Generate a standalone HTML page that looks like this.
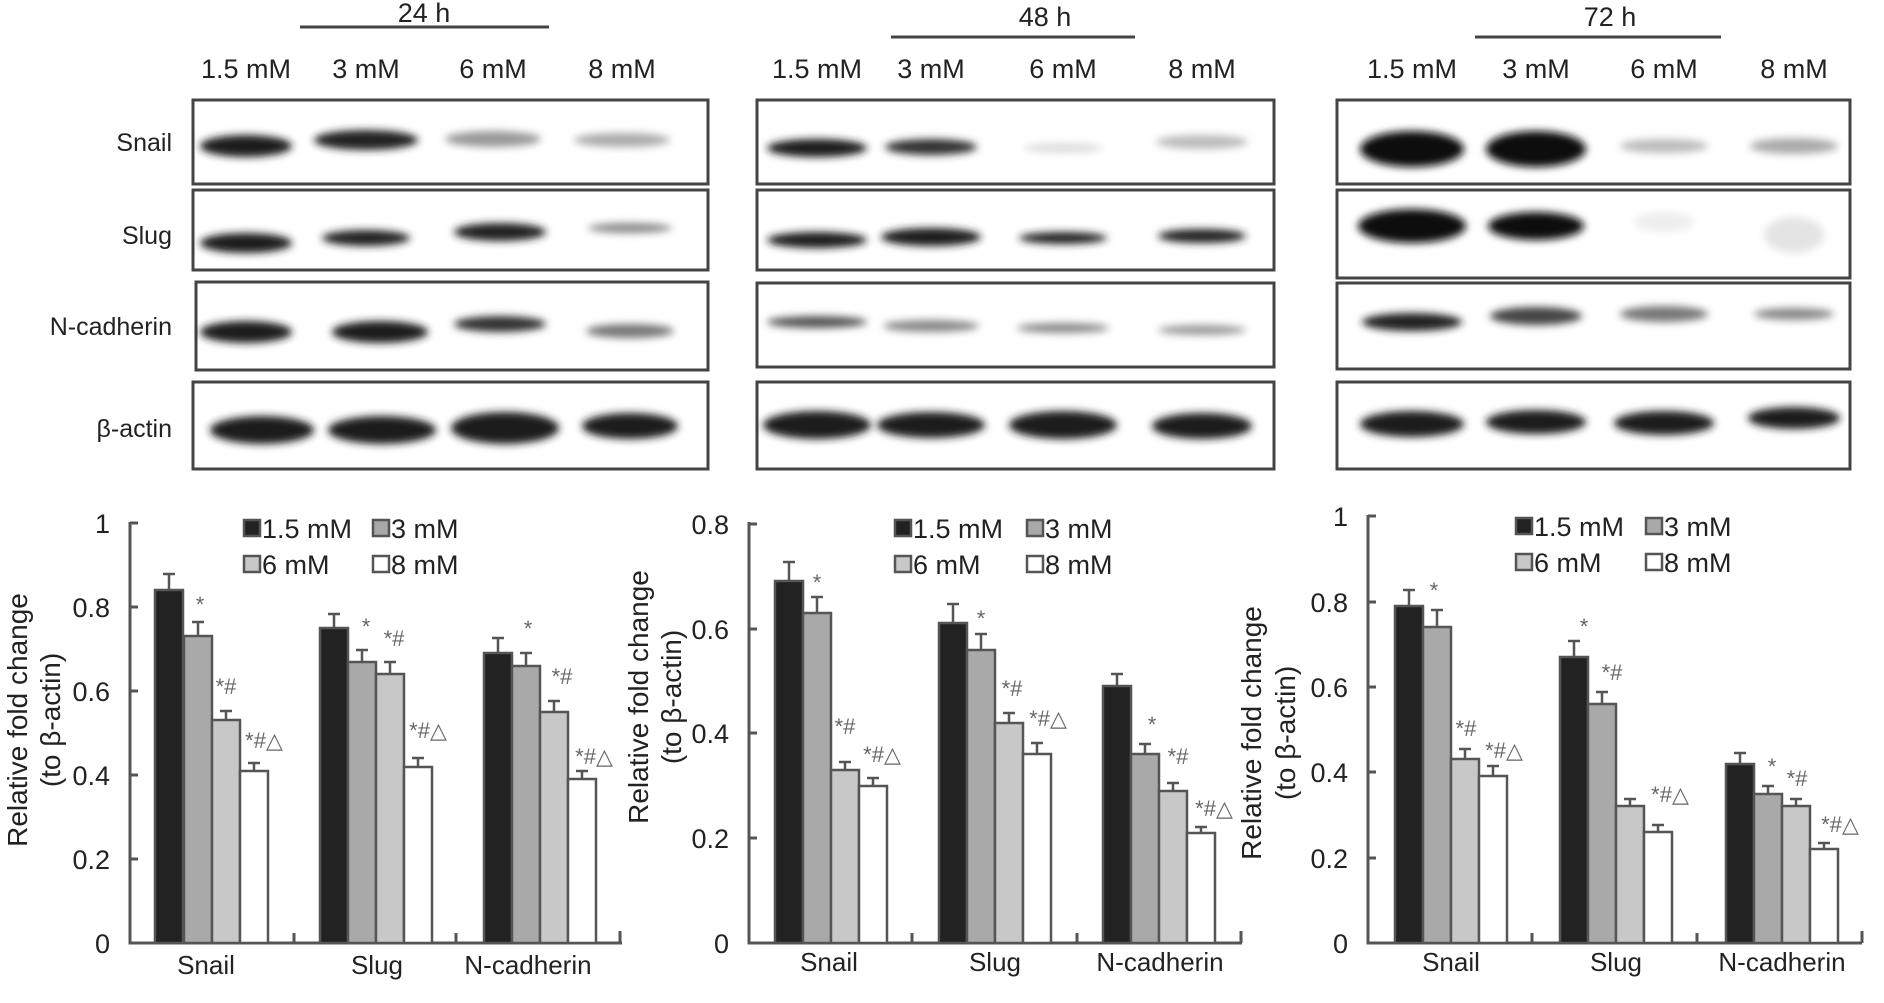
<!DOCTYPE html>
<html><head><meta charset="utf-8"><style>
html,body{margin:0;padding:0;background:#fff}
svg{display:block}
text{font-family:"Liberation Sans",sans-serif;fill:#222}
</style></head><body>
<svg width="1884" height="1003" viewBox="0 0 1884 1003" xmlns="http://www.w3.org/2000/svg">
<defs>
<filter id="b" x="-20%" y="-60%" width="140%" height="220%"><feGaussianBlur stdDeviation="4"/></filter>
</defs>
<!-- Blot headers -->
<g font-size="27" text-anchor="middle">
<text x="424" y="22">24 h</text>
<line x1="300" y1="27" x2="549" y2="27" stroke="#444" stroke-width="3"/>
<text x="246" y="78">1.5 mM</text><text x="366" y="78">3 mM</text><text x="493" y="78">6 mM</text><text x="622" y="78">8 mM</text>
<text x="1045" y="26">48 h</text>
<line x1="891" y1="37" x2="1135" y2="37" stroke="#444" stroke-width="3"/>
<text x="817" y="78">1.5 mM</text><text x="931" y="78">3 mM</text><text x="1063" y="78">6 mM</text><text x="1202" y="78">8 mM</text>
<text x="1610" y="26">72 h</text>
<line x1="1475" y1="37" x2="1721" y2="37" stroke="#444" stroke-width="3"/>
<text x="1412" y="78">1.5 mM</text><text x="1536" y="78">3 mM</text><text x="1664" y="78">6 mM</text><text x="1794" y="78">8 mM</text>
</g>
<g font-size="25" text-anchor="end">
<text x="172" y="151">Snail</text><text x="172" y="244">Slug</text><text x="172" y="335">N-cadherin</text><text x="172" y="437">β-actin</text>
</g>
<!-- blot boxes -->
<g fill="#fff" stroke="#444" stroke-width="3">
<rect x="193" y="100" width="515" height="84"/><rect x="193" y="190" width="515" height="80"/><rect x="196" y="282" width="512" height="88"/><rect x="193" y="382" width="515" height="87"/>
<rect x="757" y="100" width="517" height="84"/><rect x="757" y="190" width="517" height="80"/><rect x="757" y="283" width="517" height="84"/><rect x="757" y="382" width="517" height="87"/>
<rect x="1337" y="100" width="513" height="84"/><rect x="1337" y="190" width="513" height="88"/><rect x="1337" y="283" width="513" height="86"/><rect x="1337" y="382" width="513" height="87"/>
</g>
<!-- bands -->
<g filter="url(#b)">
<ellipse cx="246" cy="146" rx="46" ry="11" fill="#1a1a1a"/><ellipse cx="366" cy="140" rx="52" ry="10" fill="#222"/><ellipse cx="493" cy="139" rx="48" ry="8" fill="#999"/><ellipse cx="622" cy="140" rx="48" ry="7" fill="#aaa"/>
<ellipse cx="246" cy="243" rx="46" ry="10" fill="#1a1a1a"/><ellipse cx="366" cy="238" rx="44" ry="8" fill="#222"/><ellipse cx="500" cy="232" rx="46" ry="9" fill="#222"/><ellipse cx="630" cy="228" rx="42" ry="5" fill="#888"/>
<ellipse cx="246" cy="332" rx="46" ry="11" fill="#1a1a1a"/><ellipse cx="380" cy="332" rx="48" ry="11" fill="#1a1a1a"/><ellipse cx="500" cy="324" rx="46" ry="8" fill="#333"/><ellipse cx="630" cy="331" rx="44" ry="7" fill="#777"/>
<ellipse cx="262" cy="430" rx="52" ry="14" fill="#1a1a1a"/><ellipse cx="382" cy="430" rx="54" ry="14" fill="#1a1a1a"/><ellipse cx="505" cy="428" rx="54" ry="16" fill="#1a1a1a"/><ellipse cx="630" cy="426" rx="48" ry="13" fill="#1a1a1a"/>
<ellipse cx="817" cy="148" rx="50" ry="9" fill="#1a1a1a"/><ellipse cx="931" cy="147" rx="46" ry="8" fill="#333"/><ellipse cx="1063" cy="148" rx="40" ry="5" fill="#ddd"/><ellipse cx="1202" cy="142" rx="46" ry="7" fill="#bbb"/>
<ellipse cx="817" cy="240" rx="50" ry="8" fill="#1a1a1a"/><ellipse cx="931" cy="237" rx="50" ry="9" fill="#1a1a1a"/><ellipse cx="1063" cy="238" rx="44" ry="6" fill="#222"/><ellipse cx="1202" cy="236" rx="44" ry="7" fill="#222"/>
<ellipse cx="817" cy="322" rx="50" ry="6" fill="#555"/><ellipse cx="931" cy="326" rx="48" ry="6" fill="#888"/><ellipse cx="1063" cy="328" rx="46" ry="5" fill="#888"/><ellipse cx="1202" cy="330" rx="44" ry="5" fill="#999"/>
<ellipse cx="817" cy="425" rx="54" ry="14" fill="#1a1a1a"/><ellipse cx="931" cy="425" rx="54" ry="13" fill="#1a1a1a"/><ellipse cx="1063" cy="425" rx="54" ry="14" fill="#1a1a1a"/><ellipse cx="1202" cy="426" rx="50" ry="13" fill="#1a1a1a"/>
<ellipse cx="1412" cy="149" rx="52" ry="18" fill="#111"/><ellipse cx="1536" cy="149" rx="50" ry="18" fill="#111"/><ellipse cx="1664" cy="146" rx="44" ry="7" fill="#bbb"/><ellipse cx="1794" cy="146" rx="44" ry="8" fill="#aaa"/>
<ellipse cx="1412" cy="226" rx="54" ry="17" fill="#111"/><ellipse cx="1536" cy="226" rx="48" ry="14" fill="#111"/><ellipse cx="1664" cy="222" rx="30" ry="10" fill="#eee"/><ellipse cx="1794" cy="235" rx="30" ry="18" fill="#e4e4e4"/>
<ellipse cx="1412" cy="322" rx="50" ry="9" fill="#222"/><ellipse cx="1536" cy="316" rx="46" ry="9" fill="#444"/><ellipse cx="1664" cy="314" rx="44" ry="8" fill="#777"/><ellipse cx="1794" cy="314" rx="40" ry="6" fill="#888"/>
<ellipse cx="1412" cy="424" rx="52" ry="13" fill="#1a1a1a"/><ellipse cx="1536" cy="422" rx="50" ry="12" fill="#1a1a1a"/><ellipse cx="1664" cy="423" rx="50" ry="12" fill="#1a1a1a"/><ellipse cx="1794" cy="418" rx="46" ry="11" fill="#1a1a1a"/>
</g>

<!-- ===== Chart 1 ===== -->
<g font-size="27" text-anchor="end">
<text x="110" y="533">1</text><text x="110" y="617">0.8</text><text x="110" y="701">0.6</text><text x="110" y="785">0.4</text><text x="110" y="869">0.2</text><text x="110" y="953">0</text>
</g>
<g stroke="#555" stroke-width="3" fill="none">
<path d="M130 522 V943 H622"/><path d="M130 523h8M130 607h8M130 691h8M130 775h8M130 859h8"/>
<path d="M294 943v-10M456 943v-10M620 943v-12"/>
</g>
<g stroke="#555" stroke-width="2.5">
<rect x="155" y="590" width="28" height="353" fill="#222"/><rect x="184" y="636" width="28" height="307" fill="#a9a9a9"/><rect x="212" y="720" width="28" height="223" fill="#c8c8c8"/><rect x="240" y="771" width="28" height="172" fill="#fff"/>
<rect x="320" y="628" width="28" height="315" fill="#222"/><rect x="348" y="662" width="28" height="281" fill="#a9a9a9"/><rect x="376" y="674" width="28" height="269" fill="#c8c8c8"/><rect x="404" y="767" width="28" height="176" fill="#fff"/>
<rect x="484" y="653" width="28" height="290" fill="#222"/><rect x="512" y="666" width="28" height="277" fill="#a9a9a9"/><rect x="540" y="712" width="28" height="231" fill="#c8c8c8"/><rect x="568" y="779" width="28" height="164" fill="#fff"/>
<path fill="none" d="M169 590V574M163 574h12M198 636V622M192 622h12M226 720V711M220 711h12M254 771V763M248 763h12M334 628V614M328 614h12M362 662V650M356 650h12M390 674V662M384 662h12M418 767V758M412 758h12M498 653V638M492 638h12M526 666V653M520 653h12M554 712V701M548 701h12M582 779V771M576 771h12"/>
</g>
<g font-size="22" text-anchor="middle">
<text x="200" y="612" style="fill:#666">*</text><text x="226" y="694" style="fill:#666">*#</text><text x="264" y="748" style="fill:#666">*#△</text>
<text x="366" y="634" style="fill:#666">*</text><text x="394" y="646" style="fill:#666">*#</text><text x="428" y="738" style="fill:#666">*#△</text>
<text x="528" y="636" style="fill:#666">*</text><text x="562" y="684" style="fill:#666">*#</text><text x="594" y="764" style="fill:#666">*#△</text>
</g>
<g font-size="26" text-anchor="middle">
<text x="206" y="974">Snail</text><text x="377" y="974">Slug</text><text x="528" y="974">N-cadherin</text>
</g>
<g font-size="28" text-anchor="middle">
<text transform="translate(27,720) rotate(-90)">Relative fold change</text>
<text transform="translate(60,720) rotate(-90)">(to β-actin)</text>
</g>
<g stroke="#555" stroke-width="2.5">
<rect x="244" y="520" width="16" height="16" fill="#222"/><rect x="373" y="520" width="16" height="16" fill="#a9a9a9"/>
<rect x="244" y="556" width="16" height="16" fill="#c8c8c8"/><rect x="373" y="556" width="16" height="16" fill="#fff"/>
</g>
<g font-size="27"><text x="262" y="538">1.5 mM</text><text x="391" y="538">3 mM</text><text x="262" y="574">6 mM</text><text x="391" y="574">8 mM</text></g>

<!-- ===== Chart 2 ===== -->
<g font-size="27" text-anchor="end">
<text x="729" y="534">0.8</text><text x="729" y="639">0.6</text><text x="729" y="743">0.4</text><text x="729" y="848">0.2</text><text x="729" y="953">0</text>
</g>
<g stroke="#555" stroke-width="3" fill="none">
<path d="M749 522 V943 H1242"/><path d="M749 524h8M749 629h8M749 733h8M749 838h8"/>
<path d="M912 943v-10M1077 943v-10M1241 943v-12"/>
</g>
<g stroke="#555" stroke-width="2.5">
<rect x="775" y="581" width="28" height="362" fill="#222"/><rect x="803" y="613" width="28" height="330" fill="#a9a9a9"/><rect x="831" y="770" width="28" height="173" fill="#c8c8c8"/><rect x="859" y="786" width="28" height="157" fill="#fff"/>
<rect x="939" y="623" width="28" height="320" fill="#222"/><rect x="967" y="650" width="28" height="293" fill="#a9a9a9"/><rect x="995" y="723" width="28" height="220" fill="#c8c8c8"/><rect x="1023" y="754" width="28" height="189" fill="#fff"/>
<rect x="1103" y="686" width="28" height="257" fill="#222"/><rect x="1131" y="754" width="28" height="189" fill="#a9a9a9"/><rect x="1159" y="791" width="28" height="152" fill="#c8c8c8"/><rect x="1187" y="833" width="28" height="110" fill="#fff"/>
<path fill="none" d="M789 581V562M783 562h12M817 613V597M811 597h12M845 770V762M839 762h12M873 786V778M867 778h12M953 623V604M947 604h12M981 650V634M975 634h12M1009 723V713M1003 713h12M1037 754V743M1031 743h12M1117 686V674M1111 674h12M1145 754V744M1139 744h12M1173 791V783M1167 783h12M1201 833V827M1195 827h12"/>
</g>
<g font-size="22" text-anchor="middle">
<text x="817" y="590" style="fill:#666">*</text><text x="845" y="734" style="fill:#666">*#</text><text x="882" y="762" style="fill:#666">*#△</text>
<text x="981" y="626" style="fill:#666">*</text><text x="1012" y="696" style="fill:#666">*#</text><text x="1048" y="726" style="fill:#666">*#△</text>
<text x="1152" y="732" style="fill:#666">*</text><text x="1178" y="764" style="fill:#666">*#</text><text x="1214" y="816" style="fill:#666">*#△</text>
</g>
<g font-size="26" text-anchor="middle">
<text x="829" y="971">Snail</text><text x="995" y="971">Slug</text><text x="1160" y="971">N-cadherin</text>
</g>
<g font-size="28" text-anchor="middle">
<text transform="translate(648,697) rotate(-90)">Relative fold change</text>
<text transform="translate(681,697) rotate(-90)">(to β-actin)</text>
</g>
<g stroke="#555" stroke-width="2.5">
<rect x="895" y="520" width="16" height="16" fill="#222"/><rect x="1027" y="520" width="16" height="16" fill="#a9a9a9"/>
<rect x="895" y="556" width="16" height="16" fill="#c8c8c8"/><rect x="1027" y="556" width="16" height="16" fill="#fff"/>
</g>
<g font-size="27"><text x="913" y="538">1.5 mM</text><text x="1045" y="538">3 mM</text><text x="913" y="574">6 mM</text><text x="1045" y="574">8 mM</text></g>

<!-- ===== Chart 3 ===== -->
<g font-size="27" text-anchor="end">
<text x="1348" y="526">1</text><text x="1348" y="612">0.8</text><text x="1348" y="697">0.6</text><text x="1348" y="782">0.4</text><text x="1348" y="868">0.2</text><text x="1348" y="953">0</text>
</g>
<g stroke="#555" stroke-width="3" fill="none">
<path d="M1368 515 V943 H1862"/><path d="M1368 516h8M1368 602h8M1368 687h8M1368 772h8M1368 858h8"/>
<path d="M1532 943v-10M1697 943v-10M1862 943v-12"/>
</g>
<g stroke="#555" stroke-width="2.5">
<rect x="1395" y="606" width="28" height="337" fill="#222"/><rect x="1423" y="627" width="28" height="316" fill="#a9a9a9"/><rect x="1451" y="759" width="28" height="184" fill="#c8c8c8"/><rect x="1479" y="776" width="28" height="167" fill="#fff"/>
<rect x="1560" y="657" width="28" height="286" fill="#222"/><rect x="1588" y="704" width="28" height="239" fill="#a9a9a9"/><rect x="1616" y="806" width="28" height="137" fill="#c8c8c8"/><rect x="1644" y="832" width="28" height="111" fill="#fff"/>
<rect x="1726" y="764" width="28" height="179" fill="#222"/><rect x="1754" y="794" width="28" height="149" fill="#a9a9a9"/><rect x="1782" y="806" width="28" height="137" fill="#c8c8c8"/><rect x="1810" y="849" width="28" height="94" fill="#fff"/>
<path fill="none" d="M1409 606V590M1403 590h12M1437 627V610M1431 610h12M1465 759V749M1459 749h12M1493 776V766M1487 766h12M1574 657V641M1568 641h12M1602 704V692M1596 692h12M1630 806V799M1624 799h12M1658 832V825M1652 825h12M1740 764V753M1734 753h12M1768 794V786M1762 786h12M1796 806V799M1790 799h12M1824 849V843M1818 843h12"/>
</g>
<g font-size="22" text-anchor="middle">
<text x="1434" y="598" style="fill:#666">*</text><text x="1466" y="736" style="fill:#666">*#</text><text x="1504" y="758" style="fill:#666">*#△</text>
<text x="1584" y="634" style="fill:#666">*</text><text x="1612" y="680" style="fill:#666">*#</text><text x="1670" y="802" style="fill:#666">*#△</text>
<text x="1772" y="774" style="fill:#666">*</text><text x="1797" y="786" style="fill:#666">*#</text><text x="1840" y="832" style="fill:#666">*#△</text>
</g>
<g font-size="26" text-anchor="middle">
<text x="1451" y="971">Snail</text><text x="1616" y="971">Slug</text><text x="1782" y="971">N-cadherin</text>
</g>
<g font-size="28" text-anchor="middle">
<text transform="translate(1261,733) rotate(-90)">Relative fold change</text>
<text transform="translate(1295,733) rotate(-90)">(to β-actin)</text>
</g>
<g stroke="#555" stroke-width="2.5">
<rect x="1516" y="518" width="16" height="16" fill="#222"/><rect x="1646" y="518" width="16" height="16" fill="#a9a9a9"/>
<rect x="1516" y="554" width="16" height="16" fill="#c8c8c8"/><rect x="1646" y="554" width="16" height="16" fill="#fff"/>
</g>
<g font-size="27"><text x="1534" y="536">1.5 mM</text><text x="1664" y="536">3 mM</text><text x="1534" y="572">6 mM</text><text x="1664" y="572">8 mM</text></g>
</svg>
</body></html>
